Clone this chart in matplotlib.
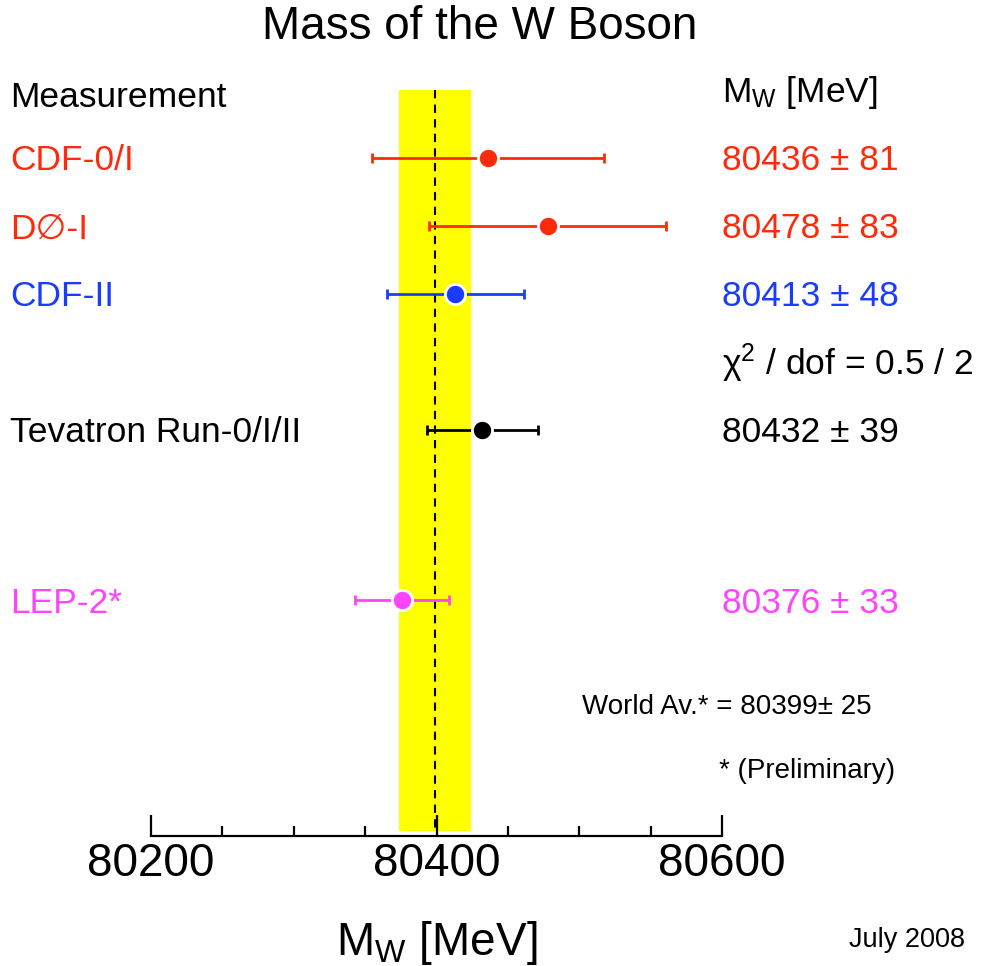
import numpy as np
import matplotlib
matplotlib.use("Agg")
import matplotlib.pyplot as plt
from matplotlib.ticker import MultipleLocator

plt.rcParams['font.family'] = ['Liberation Sans', 'DejaVu Sans']
plt.rcParams['mathtext.fontset'] = 'custom'
plt.rcParams['mathtext.rm'] = 'Liberation Sans'
plt.rcParams['mathtext.it'] = 'Liberation Sans:italic'
plt.rcParams['mathtext.bf'] = 'Liberation Sans:bold'

# measurements
names = ['CDF-0/I', 'D\u2205-I', 'CDF-II', 'Tevatron Run-0/I/II', 'LEP-2*']
mass = [80436, 80478, 80413, 80432, 80376]
err = [81, 83, 48, 39, 33]
colors = ['#ff2a0a', '#ff2a0a', '#1a3cff', 'black', '#ff44ff']
rows = [1, 2, 3, 5, 7.5]

world_av = 80399
world_err = 25
chi2_text = '\u03c7$^{2}$ / dof = 0.5 / 2'

fig = plt.figure(figsize=(9.83, 9.66), dpi=100)
W, H = 983, 966
ax = fig.add_axes([151 / W, (H - 836) / H, (722 - 151) / W, 836 / H])
ax.set_xlim(80200, 80600)
ax.set_ylim(10.97, -1.32)

# world average band
ax.fill_betweenx([0, 10.9], world_av - world_err, world_av + world_err,
                 color='#ffff00', lw=0, zorder=1)
ax.plot([world_av, world_av], [0, 10.9], color='black', lw=1.5,
        dashes=(4, 3), zorder=2)

for m, e, c, r in zip(mass, err, colors, rows):
    ax.errorbar(m, r, xerr=e, fmt='o', color=c, ms=14.5, mec='white', mew=2,
                elinewidth=2, capsize=3.5, capthick=1.8, zorder=3)

for sp in ['top', 'left', 'right']:
    ax.spines[sp].set_visible(False)
ax.spines['bottom'].set_linewidth(1.6)
ax.set_yticks([])
ax.xaxis.set_major_locator(MultipleLocator(200))
ax.xaxis.set_minor_locator(MultipleLocator(50))
ax.tick_params(axis='x', which='major', direction='in', length=15, width=1.6,
               labelsize=33, pad=4)
ax.tick_params(axis='x', which='minor', direction='in', length=7, width=1.6)
ax.set_xlabel('M$_{\\rm W}$ [MeV]', fontsize=33, labelpad=24)

# text columns (small downward nudge so text centres sit on the marker rows)
dy = 0.045
trans = ax.get_yaxis_transform()
fig.text(480 / W, 1 - 27 / H, 'Mass of the W Boson', fontsize=33,
         ha='center', va='center')
ax.text(-141 / 571, 0.07 + dy, 'Measurement', fontsize=25.5,
        transform=trans, va='center', ha='left')
ax.text(1.0, 0.0 + dy, 'M$_{\\rm W}$ [MeV]', fontsize=25.5,
        transform=trans, va='center', ha='left')
for n, m, e, c, r in zip(names, mass, err, colors, rows):
    ax.text(-141 / 571, r + dy, n, fontsize=25.5, color=c,
            transform=trans, va='center', ha='left')
    ax.text(1.0, r + dy, f'{m} \u00b1 {e}', fontsize=25.5, color=c,
            transform=trans, va='center', ha='left')
ax.text(1.0, 3.97 + dy, chi2_text, fontsize=25.5, transform=trans,
        va='center', ha='left')
ax.text((582 - 151) / 571, 9.03 + dy, f'World Av.* = {world_av}\u00b1 {world_err}',
        fontsize=20, transform=trans, va='center', ha='left')
ax.text((719 - 151) / 571, 9.97 + dy, '* (Preliminary)', fontsize=20,
        transform=trans, va='center', ha='left')
fig.text(965 / W, 1 - 940 / H, 'July 2008', fontsize=19.5,
         ha='right', va='center')

fig.savefig('out.png', dpi=100)
